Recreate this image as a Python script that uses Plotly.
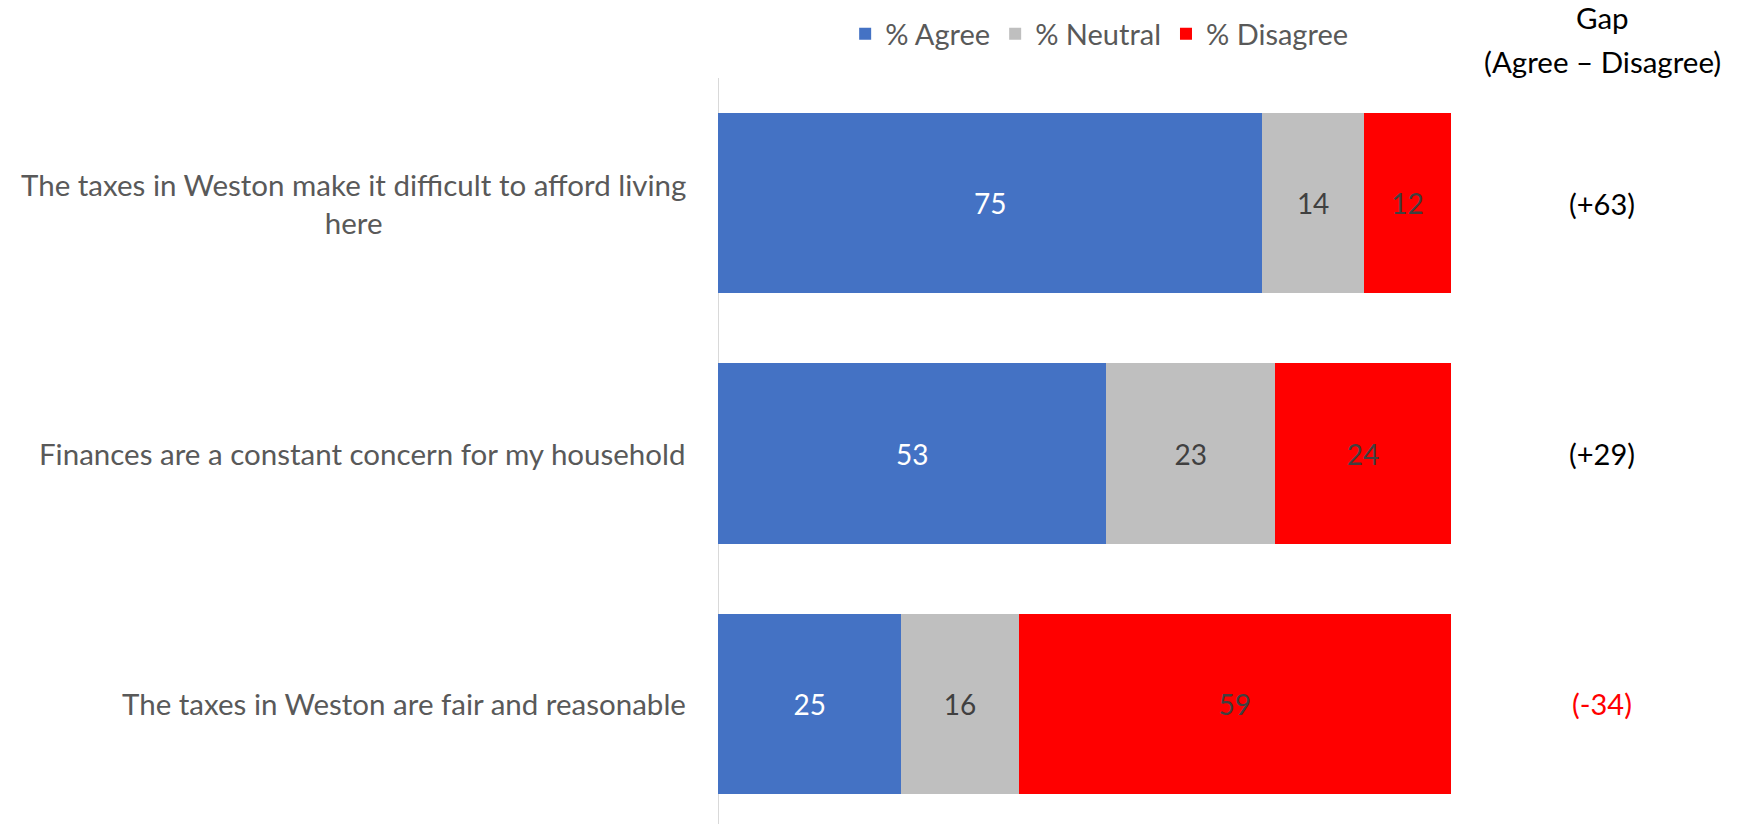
import plotly.graph_objects as go

# Survey statements (top to bottom) and response shares
statements = [
    "The taxes in Weston make it difficult to afford living<br>here",
    "Finances are a constant concern for my household",
    "The taxes in Weston are fair and reasonable",
]
agree = [75, 53, 25]
neutral = [14, 23, 16]
disagree = [12, 24, 59]

series_names = ["% Agree", "% Neutral", "% Disagree"]
series_colors = ["#4472C4", "#BFBFBF", "#FF0000"]
label_colors = ["#FFFFFF", "#404040", "#404040"]

FONT = "Lato"
W, H = 1739, 824
ML, MR, MT, MB = 718, 288, 78, 0
PH = H - MT - MB

fig = go.Figure()
for name, vals, col, tcol in zip(series_names, [agree, neutral, disagree],
                                 series_colors, label_colors):
    fig.add_trace(go.Bar(
        y=statements, x=vals, name=name, orientation="h",
        marker=dict(color=col, line=dict(width=0)),
        text=[str(v) for v in vals], textposition="inside",
        insidetextanchor="middle", textangle=0, constraintext="none",
        textfont=dict(family=FONT, size=28, color=tcol),
        hoverinfo="skip",
    ))

# Category labels, right-aligned against the axis, lines centred
for s in statements:
    fig.add_annotation(
        x=0, xref="paper", y=s, yref="y", text=s, showarrow=False,
        xanchor="right", yanchor="middle", align="center", xshift=-30,
        font=dict(family=FONT, size=29.5, color="#595959"),
    )

# Gap column (Agree minus Disagree)
gap_x = (1602 - ML) / (W - ML - MR)
for s, a, d in zip(statements, agree, disagree):
    g = a - d
    fig.add_annotation(
        x=gap_x, xref="paper", y=s, yref="y",
        text=f"({'+' if g > 0 else ''}{g})", showarrow=False,
        xanchor="center", yanchor="middle",
        font=dict(family=FONT, size=29, color="#000000" if g >= 0 else "#FF0000"),
    )
for line, ypx in [("Gap", 17), ("(Agree – Disagree)", 62)]:
    fig.add_annotation(
        x=gap_x, xref="paper", y=1 + (MT - ypx) / PH, yref="paper",
        text=line, showarrow=False, xanchor="center", yanchor="middle",
        font=dict(family=FONT, size=29.5, color="#000000"),
    )

fig.update_layout(
    width=W, height=H,
    margin=dict(l=ML, r=MR, t=MT, b=MB, pad=0),
    barmode="stack", barnorm="percent", bargap=0.28,
    paper_bgcolor="white", plot_bgcolor="white",
    showlegend=True,
    legend=dict(
        orientation="h", x=0.52, xanchor="center",
        y=1 + (MT - 34) / PH, yanchor="middle",
        font=dict(family=FONT, size=29, color="#595959"),
        traceorder="normal", itemwidth=30,
    ),
    xaxis=dict(range=[0, 100], visible=False, fixedrange=True),
    yaxis=dict(
        type="category", categoryorder="array", categoryarray=statements,
        range=[2.48, -0.5], showticklabels=False, showgrid=False,
        zeroline=False, showline=False, ticks="",
    ),
    shapes=[dict(type="line", xref="x", yref="paper", x0=0, x1=0, y0=0, y1=1,
                 line=dict(color="#D9D9D9", width=2), layer="below")],
)

fig.write_html("out.html")
